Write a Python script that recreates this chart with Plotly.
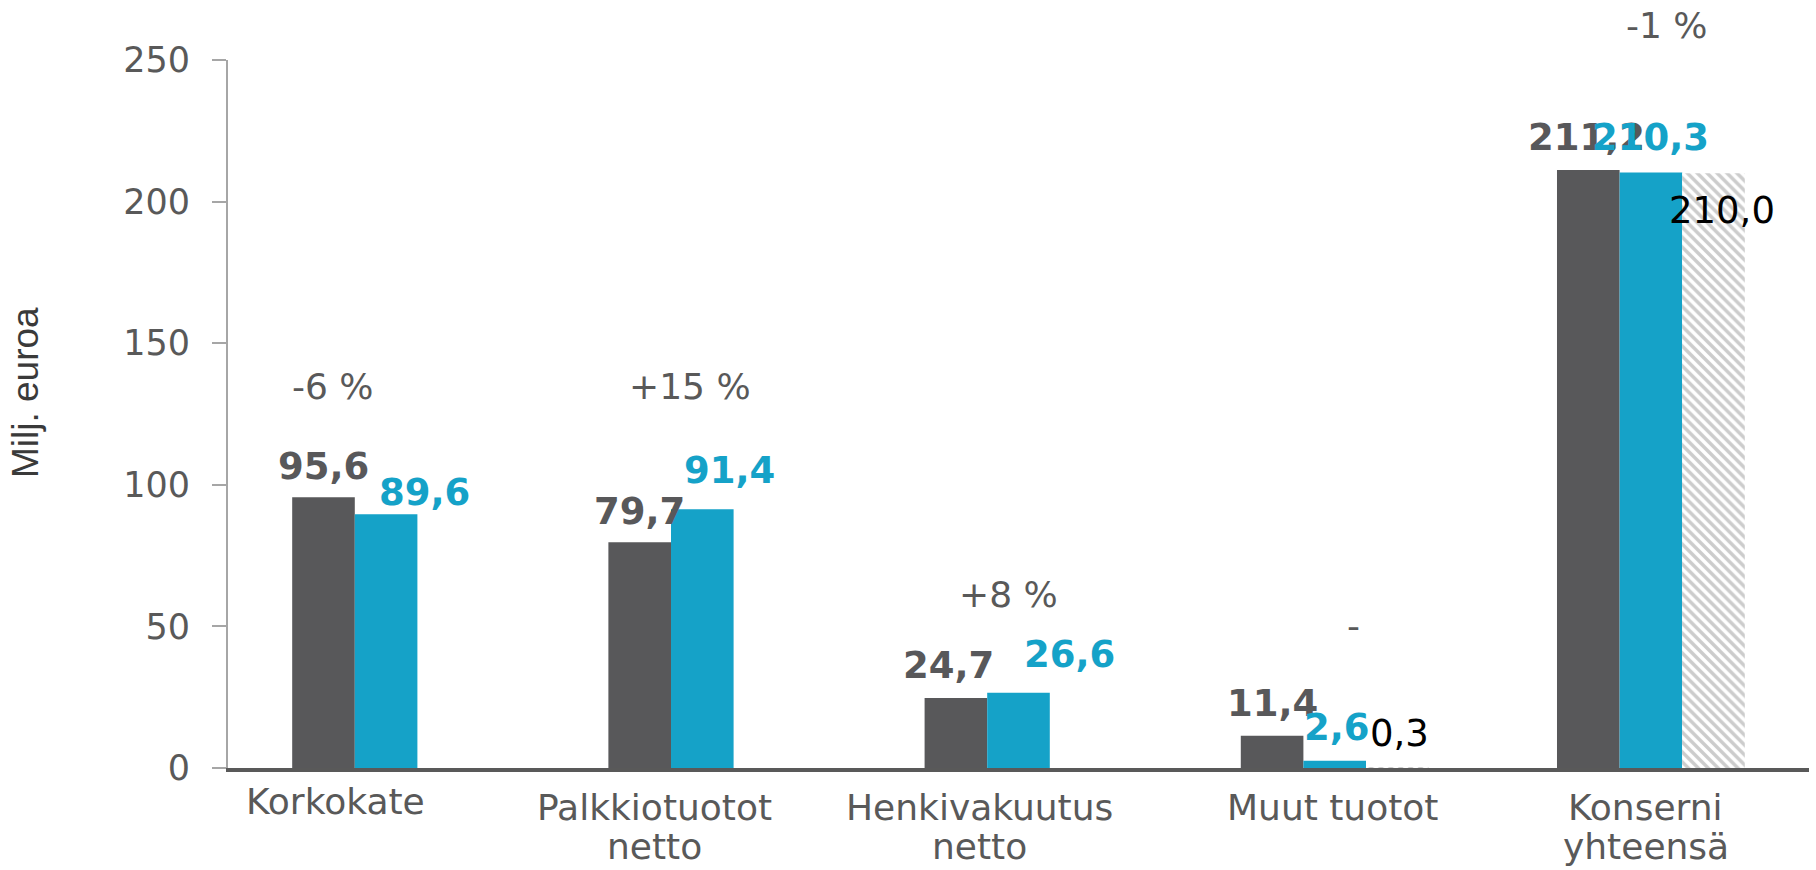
import plotly.graph_objects as go

# ---- data ----
categories = ["Korkokate", "Palkkiotuotot\nnetto", "Henkivakuutus\nnetto", "Muut tuotot", "Konserni\nyhteensä"]
prev_year = [95.6, 79.7, 24.7, 11.4, 211.2]
curr_year = [89.6, 91.4, 26.6, 2.6, 210.3]
third_series = [None, None, None, 0.3, 210.0]
change_labels = ["-6 %", "+15 %", "+8 %", "-", "-1 %"]
y_ticks = [0, 50, 100, 150, 200, 250]

# ---- label placement (styling, pixels / data units) ----
change_y = [134.6, 134.6, 61.4, 50.3, 262.3]
change_xshift = [-53, -12, -10, 19, 16]
cat_xshift = [-51, -48, -39, -2, -5]
cat_first_line_shift = [-33, -39, -39, -39, -39]
prev_lbl_shift = [(0, 31), (0, 31), (-7, 33), (0, 32), (-2, 32)]
curr_lbl_shift = [(38, 22), (27, 39), (51, 38), (2, 33), (0, 35)]
third_lbl_shift = [None, None, None, (2, 34), (8, -37)]

DARK = "#58585a"
BLUE = "#15a2c8"
GREY_TXT = "#595959"
FONT = "DejaVu Sans, Verdana, sans-serif"

W, H = 1816, 870
ML, MR, MT, MB = 228, 7, 60, 102

bargap = 0.406
bw = (1 - bargap) / 3
x = list(range(len(categories)))

fig = go.Figure()
fig.add_trace(go.Bar(x=x, y=prev_year, marker=dict(color=DARK, line=dict(width=0)), name="prev"))
fig.add_trace(go.Bar(x=x, y=curr_year, marker=dict(color=BLUE, line=dict(width=0)), name="curr"))
fig.add_trace(go.Bar(x=x, y=third_series,
                     marker=dict(color="white", line=dict(width=0),
                                 pattern=dict(shape="\\", fgcolor="#9a9a9a", bgcolor="white",
                                              size=7, solidity=0.5)),
                     name="third"))

ann = []
for i in x:
    xs, ys = prev_lbl_shift[i]
    ann.append(dict(x=i - bw, y=prev_year[i], xref="x", yref="y", text=f"{prev_year[i]:.1f}".replace(".", ","),
                    showarrow=False, xshift=xs, yshift=ys, yanchor="middle",
                    font=dict(family=FONT, size=37, color=DARK, weight="bold")))
    xs, ys = curr_lbl_shift[i]
    ann.append(dict(x=i, y=curr_year[i], xref="x", yref="y", text=f"{curr_year[i]:.1f}".replace(".", ","),
                    showarrow=False, xshift=xs, yshift=ys, yanchor="middle",
                    font=dict(family=FONT, size=37, color=BLUE, weight="bold")))
    if third_series[i] is not None:
        xs, ys = third_lbl_shift[i]
        ann.append(dict(x=i + bw, y=third_series[i], xref="x", yref="y",
                        text=f"{third_series[i]:.1f}".replace(".", ","),
                        showarrow=False, xshift=xs, yshift=ys, yanchor="middle",
                        font=dict(family=FONT, size=37, color="black")))
    ann.append(dict(x=i, y=change_y[i] / 250, xref="x", yref="paper", text=change_labels[i],
                    showarrow=False, xshift=change_xshift[i], yanchor="middle",
                    font=dict(family=FONT, size=36, color=GREY_TXT)))
    for j, line in enumerate(categories[i].split("\n")):
        ann.append(dict(x=i, y=0, xref="x", yref="paper", text=line, showarrow=False,
                        xshift=cat_xshift[i], yshift=cat_first_line_shift[i] - 39 * j,
                        yanchor="middle",
                        font=dict(family=FONT, size=36, color=GREY_TXT)))

plot_w = W - ML - MR
plot_h = H - MT - MB
ann.append(dict(x=(25 - ML) / plot_w, y=(H - MB - 393) / plot_h, xref="paper", yref="paper",
                xanchor="center", yanchor="middle",
                text="Milj. euroa", textangle=-90, showarrow=False,
                font=dict(family="Liberation Sans, Arial, sans-serif", size=37, color="#3a3a3a")))

fig.update_layout(
    width=W, height=H,
    margin=dict(l=ML, r=MR, t=MT, b=MB, pad=0),
    paper_bgcolor="white", plot_bgcolor="white",
    barmode="group", bargap=bargap, bargroupgap=0,
    showlegend=False,
    annotations=ann,
    xaxis=dict(range=[-0.5, 4.5], showticklabels=False, ticks="", showgrid=False, zeroline=False,
               showline=True, linecolor="#595959", linewidth=4),
    yaxis=dict(range=[0, 250], tickvals=y_ticks, showgrid=False, zeroline=False,
               showline=True, linecolor="#a6a6a6", linewidth=2,
               ticks="outside", ticklen=14, tickwidth=2, tickcolor="#a6a6a6",
               ticklabelstandoff=15,
               tickfont=dict(family=FONT, size=35, color=GREY_TXT)),
)

fig.write_html("out.html", config={"displayModeBar": False},
               post_script="document.body.style.margin='0';document.body.style.overflow='hidden';")
